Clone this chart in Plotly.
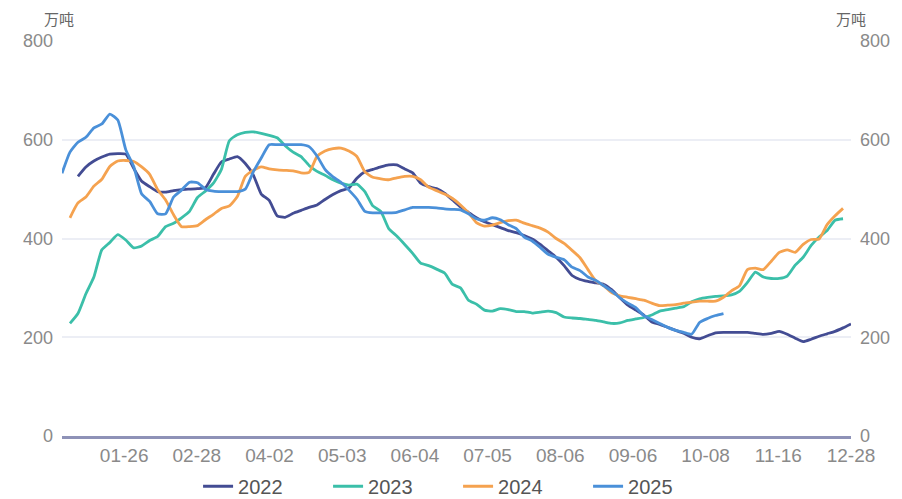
import plotly.graph_objects as go

# ---- data ----
tick_labels = ["01-26", "02-28", "04-02", "05-03", "06-04", "07-05",
               "08-06", "09-06", "10-08", "11-16", "12-28"]
n_points = 100
y_ticks = [0, 200, 400, 600, 800]

s2022 = [None, None, 526, 545, 557, 565, 571, 572, 571, 542, 516, 505, 495, 494, 497, 499,
         500, 501, 503, 530, 555, 561, 566, 552, 529, 490, 477, 446, 443, 451, 457, 463,
         468, 479, 489, 497, 502, 522, 535, 540, 545, 549, 549, 541, 533, 512, 505, 501,
         492, 478, 464, 453, 442, 434, 428, 422, 416, 412, 406, 399, 388, 375, 362, 345,
         325, 317, 313, 310, 307, 296, 280, 265, 255, 245, 231, 226, 220, 214, 208, 200,
         197, 203, 209, 210, 210, 210, 210, 208, 206, 208, 212, 206, 198, 191, 196, 202,
         207, 212, 219, 227]

s2023 = [None, 228, 248, 288, 322, 377, 392, 408, 397, 381, 385, 396, 404, 424, 431, 442,
         455, 483, 496, 512, 540, 598, 610, 615, 616, 613, 609, 604, 588, 575, 566, 548,
         536, 528, 519, 512, 508, 510, 495, 466, 455, 420, 405, 388, 370, 350, 345, 338,
         330, 307, 300, 275, 267, 255, 253, 258, 256, 252, 252, 249, 251, 253, 250, 241,
         239, 238, 236, 234, 231, 228, 229, 234, 237, 240, 245, 253, 256, 259, 262, 272,
         278, 281, 283, 284, 286, 293, 311, 332, 322, 319, 319, 324, 346, 362, 386, 403,
         416, 437, 440, None]

s2024 = [None, 442, 472, 484, 506, 520, 546, 557, 558, 556, 545, 530, 499, 478, 448, 424,
         424, 426, 438, 449, 461, 466, 485, 526, 538, 545, 541, 539, 538, 537, 533, 534,
         566, 577, 582, 583, 577, 566, 535, 524, 521, 519, 523, 526, 526, 519, 504, 497,
         490, 481, 468, 452, 432, 425, 427, 432, 436, 437, 431, 426, 421, 413, 400, 390,
         376, 361, 337, 314, 304, 290, 284, 281, 278, 275, 269, 264, 265, 266, 269, 271,
         273, 273, 273, 281, 294, 304, 337, 340, 337, 354, 372, 377, 372, 388, 398, 399,
         428, 446, 461, None]

s2025 = [532, 575, 595, 605, 624, 632, 652, 640, 580, 546, 490, 475, 450, 450, 484, 498,
         514, 513, 500, 496, 495, 495, 495, 500, 535, 563, 590, 590, 590, 590, 590, 586,
         567, 540, 525, 514, 498, 480, 455, 452, 452, 452, 453, 458, 463, 463, 463, 462,
         460, 459, 458, 450, 440, 437, 442, 438, 428, 420, 403, 395, 382, 368, 362, 357,
         342, 335, 322, 315, 304, 293, 280, 269, 260, 244, 236, 228, 220, 214, 210, 206,
         230, 238, 244, 248] + [None] * 16

series = [("2022", s2022, "#434c93"), ("2023", s2023, "#3bbfa9"),
          ("2024", s2024, "#f5a24f"), ("2025", s2025, "#4a90d9")]

x = list(range(n_points))
step = 9.12
tick_vals = [(n_points - 1) - step * (len(tick_labels) - 1 - k) for k in range(len(tick_labels))]

fig = go.Figure()
for name, vals, col in series:
    fig.add_trace(go.Scatter(x=x, y=vals, name=name, mode="lines",
                             line=dict(color=col, width=2.8, shape="spline", smoothing=0.5),
                             connectgaps=False))

tick_font = dict(family="Liberation Sans, Arial, sans-serif", size=18, color="#8a8a8a")
unit_font = dict(family="Noto Sans CJK SC", size=15, color="#666666")

# the page body adds an 8px offset, so the figure is 8px smaller than the window
fig.update_layout(
    width=894, height=491,
    margin=dict(l=54, r=51, t=33, b=63, autoexpand=False),
    paper_bgcolor="white", plot_bgcolor="white",
    showlegend=True,
    legend=dict(orientation="h", x=0.502, xanchor="center", yref="container", y=0.026,
                yanchor="middle",
                font=dict(family="Liberation Sans, Arial, sans-serif", size=20, color="#555555"),
                entrywidth=85, entrywidthmode="pixels", itemwidth=30,
                bgcolor="rgba(0,0,0,0)"),
    xaxis=dict(range=[0, n_points - 1], tickmode="array", tickvals=tick_vals, ticktext=tick_labels,
               showgrid=False, zeroline=False, showline=True, linecolor="#8e92b7", linewidth=2.5,
               ticks="", ticklabelstandoff=0, automargin=False,
               tickfont=dict(family="Liberation Sans, Arial, sans-serif", size=19, color="#8a8a8a")),
    yaxis=dict(range=[0, 800], tickmode="array", tickvals=y_ticks, showgrid=True,
               gridcolor="#eceef5", gridwidth=1.5, zeroline=False, showline=False, ticks="",
               ticklabelstandoff=8, automargin=False, tickfont=tick_font),
    yaxis2=dict(range=[0, 800], tickmode="array", tickvals=y_ticks, overlaying="y", side="right",
                showgrid=False, zeroline=False, showline=False, ticks="",
                ticklabelstandoff=8, automargin=False, tickfont=tick_font),
    annotations=[
        dict(text="万吨", xref="paper", yref="paper", x=-0.004, y=1.0557, xanchor="center",
             yanchor="middle", showarrow=False, borderpad=0, font=unit_font),
        dict(text="万吨", xref="paper", yref="paper", x=1.0, y=1.0557, xanchor="center",
             yanchor="middle", showarrow=False, borderpad=0, font=unit_font),
    ],
)
# right-hand axis mirrors the left scale
fig.add_trace(go.Scatter(x=[None], y=[None], yaxis="y2", showlegend=False, hoverinfo="skip"))

fig.write_html("out.html")
